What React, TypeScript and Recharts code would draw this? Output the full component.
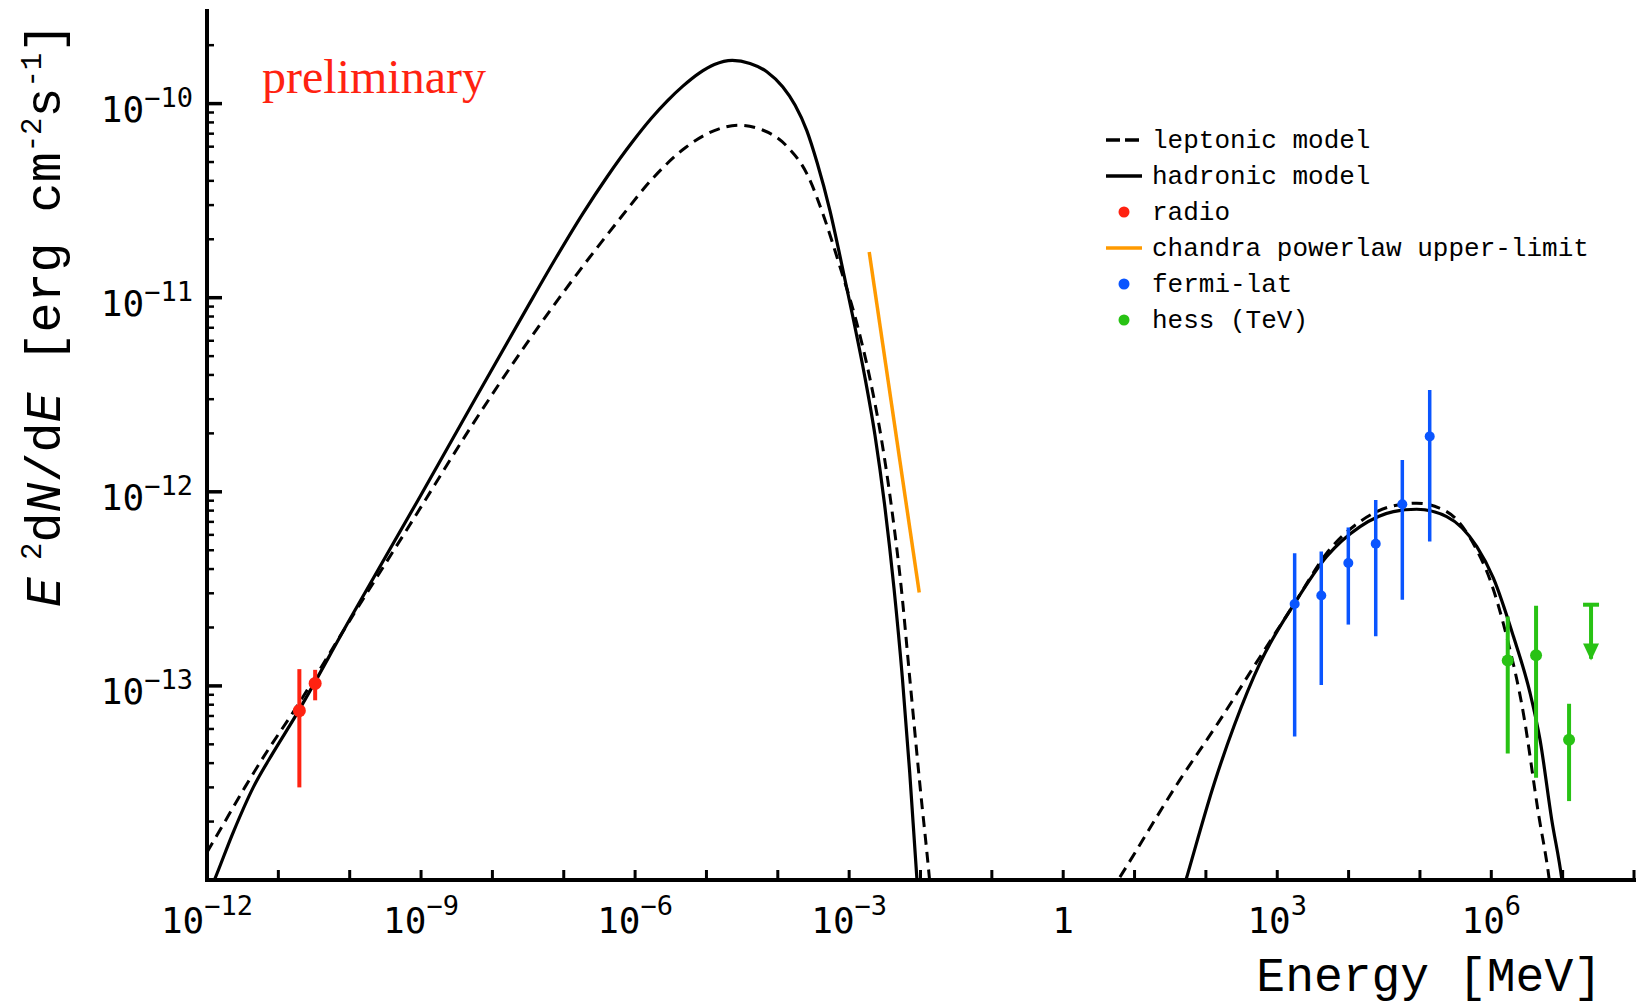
import React from 'react'
import { ComposedChart, Line, Scatter, XAxis, YAxis, ErrorBar } from 'recharts'

const W = 1631
const H = 996

const RED = '#ff2211'
const BLUE = '#0a55ff'
const GREEN = '#28c214'
const ORANGE = '#ff9a00'

// axes (Energy in MeV, E^2 dN/dE in erg cm^-2 s^-1)
const X_DOMAIN = [1e-12, 1e8]
const Y_DOMAIN = [1e-14, 3e-10]
const X_TICKS = [1e-12, 1e-11, 1e-10, 1e-9, 1e-8, 1e-7, 1e-6, 1e-5, 1e-4, 1e-3, 1e-2, 1e-1, 1, 10, 100, 1e3, 1e4, 1e5, 1e6, 1e7, 1e8]
const X_LABELED = [-12, -9, -6, -3, 0, 3, 6]
const Y_MAJOR = [1e-13, 1e-12, 1e-11, 1e-10]
const Y_MINOR = [
  2e-14, 3e-14, 4e-14, 5e-14, 6e-14, 7e-14, 8e-14, 9e-14,
  2e-13, 3e-13, 4e-13, 5e-13, 6e-13, 7e-13, 8e-13, 9e-13,
  2e-12, 3e-12, 4e-12, 5e-12, 6e-12, 7e-12, 8e-12, 9e-12,
  2e-11, 3e-11, 4e-11, 5e-11, 6e-11, 7e-11, 8e-11, 9e-11,
  2e-10,
]

// leptonic model, synchrotron bump
const lepLowE = [1e-12, 1.84e-12, 3.39e-12, 6.9e-12, 1.56e-11, 1.0e-10, 8.22e-10, 5.3e-9, 2.88e-8, 1.57e-7, 6.1e-7, 1.8e-6, 5.16e-6, 1.29e-5, 2.81e-5, 6.12e-5, 1.34e-4, 2.55e-4, 4.53e-4, 7.54e-4, 1.25e-3, 1.95e-3, 2.82e-3, 3.96e-3, 5.38e-3, 7.05e-3, 9.73e-3, 1.34e-2, 1.44e-2]
const lepLowF = [1.39e-14, 2.04e-14, 3.0e-14, 4.58e-14, 7.18e-14, 2.17e-13, 7.45e-13, 2.23e-12, 5.66e-12, 1.34e-11, 2.55e-11, 4.15e-11, 5.96e-11, 7.26e-11, 7.73e-11, 7.31e-11, 6.03e-11, 4.36e-11, 2.55e-11, 1.42e-11, 7.64e-12, 3.85e-12, 1.89e-12, 8.13e-13, 3.19e-13, 1.11e-13, 3.19e-14, 1.0e-14, 7.45e-15]
// leptonic model, inverse compton bump
const lepHighE = [4.56, 5.87, 43.4, 150, 572.8, 1758, 4930, 1.45e4, 4.25e4, 9.0e4, 2.37e5, 6.24e5, 9.6e5, 1.64e6, 2.81e6, 4.56e6, 6.5e6, 6.97e6]
const lepHighF = [8.65e-15, 1.0e-14, 3.29e-14, 6.49e-14, 1.41e-13, 2.67e-13, 4.83e-13, 7.03e-13, 8.47e-13, 8.73e-13, 7.91e-13, 5.02e-13, 3.52e-13, 1.8e-13, 7.26e-14, 2.22e-14, 1.0e-14, 8.1e-15]

// hadronic model
const hadLowE = [1.03e-12, 1.27e-12, 2.33e-12, 4.45e-12, 8.45e-12, 1.67e-11, 1.0e-10, 9.1e-10, 5.3e-9, 2.88e-8, 7.98e-8, 1.86e-7, 4.06e-7, 9.48e-7, 1.69e-6, 2.81e-6, 4.67e-6, 8.02e-6, 1.29e-5, 2.3e-5, 4.08e-5, 7.02e-5, 1.17e-4, 1.75e-4, 2.55e-4, 3.57e-4, 5.37e-4, 7.8e-4, 1.13e-3, 1.64e-3, 2.31e-3, 3.13e-3, 4.25e-3, 5.56e-3, 7.05e-3, 8.93e-3, 9.57e-3]
const hadLowF = [8.33e-15, 1.0e-14, 1.76e-14, 3.0e-14, 4.53e-14, 6.82e-14, 2.2e-13, 9.08e-13, 2.86e-12, 8.53e-12, 1.63e-11, 2.72e-11, 4.2e-11, 6.45e-11, 8.4e-11, 1.03e-10, 1.23e-10, 1.44e-10, 1.59e-10, 1.67e-10, 1.61e-10, 1.46e-10, 1.22e-10, 9.8e-11, 7.26e-11, 4.94e-11, 2.82e-11, 1.51e-11, 7.93e-12, 4.0e-12, 1.94e-12, 8.65e-13, 3.19e-13, 1.11e-13, 3.61e-14, 1.0e-14, 7.18e-15]
const hadHighE = [46.8, 52.5, 132.4, 249.5, 572.8, 1758, 4930, 1.45e4, 4.25e4, 9.0e4, 2.37e5, 6.24e5, 1.07e6, 2.04e6, 3.49e6, 4.82e6, 7.02e6, 9.77e6, 1.05e7]
const hadHighF = [8.65e-15, 1.0e-14, 3.19e-14, 6.25e-14, 1.31e-13, 2.67e-13, 4.64e-13, 6.62e-13, 7.91e-13, 8.13e-13, 7.45e-13, 5.23e-13, 3.59e-13, 1.8e-13, 9.2e-14, 5.28e-14, 2.05e-14, 1.0e-14, 8.1e-15]

// chandra powerlaw upper limit
const chandraE = [1.91e-3, 9.6e-3]
const chandraF = [1.72e-11, 3.03e-13]

// radio
const radioE = [1.97e-11, 3.28e-11]
const radioF = [7.45e-14, 1.03e-13]
const radioLo = [3.0e-14, 8.43e-14]
const radioHi = [1.22e-13, 1.21e-13]

// fermi-lat
const fermiE = [1754, 4140, 9910, 2.4e4, 5.66e4, 1.37e5]
const fermiF = [2.64e-13, 2.92e-13, 4.3e-13, 5.4e-13, 8.63e-13, 1.93e-12]
const fermiLo = [5.48e-14, 1.01e-13, 2.07e-13, 1.8e-13, 2.78e-13, 5.55e-13]
const fermiHi = [4.83e-13, 4.92e-13, 6.55e-13, 9.08e-13, 1.46e-12, 3.35e-12]

// hess
const hessE = [1.7e6, 4.24e6, 1.23e7]
const hessF = [1.35e-13, 1.44e-13, 5.28e-14]
const hessLo = [4.48e-14, 3.36e-14, 2.55e-14]
const hessHi = [2.28e-13, 2.59e-13, 8.09e-14]
// hess upper limit (bar top, arrow tip)
const hessUlE = [2.5e7]
const hessUlF = [2.62e-13]
const hessUlTip = [1.35e-13]

const rows = (E: number[], F: number[]) => E.map((x, i) => ({ x, y: F[i] }))
const rowsErr = (E: number[], F: number[], lo: number[], hi: number[]) =>
  E.map((x, i) => ({ x, y: F[i], err: [F[i] - lo[i], hi[i] - F[i]] }))

const TICK_FONT = 'DejaVu Sans Mono'
const MONO = 'Liberation Mono, Courier New, monospace'

const expOf = (v: number) => Math.round(Math.log10(v))
const isDecade = (v: number) => Math.abs(Math.log10(v) - expOf(v)) < 1e-6
const supText = (e: number) => (e < 0 ? '\u2212' + -e : String(e))

function BottomTick(props: any) {
  const { x, y, payload } = props
  const e = expOf(payload.value)
  return (
    <g>
      <line x1={x} y1={y} x2={x} y2={y - 10} stroke="#000" strokeWidth={3} />
      {X_LABELED.includes(e) && (
        <text x={x} y={y + 53} textAnchor="middle" fontFamily={TICK_FONT} fontSize={36} fill="#000">
          {e === 0 ? '1' : (
            <>
              10<tspan dy={-18} fontSize={27}>{supText(e)}</tspan>
            </>
          )}
        </text>
      )}
    </g>
  )
}

function TopTick(props: any) {
  const { x, y } = props
  return <line x1={x} y1={y} x2={x} y2={y + 10} stroke="#000" strokeWidth={3} />
}

function LeftTick(props: any) {
  const { x, y, payload } = props
  const major = isDecade(payload.value)
  return (
    <g>
      <line x1={x} y1={y} x2={x + (major ? 15 : 7)} y2={y} stroke="#000" strokeWidth={major ? 3.5 : 2.5} />
      {major && (
        <text x={x - 14} y={y + 18} textAnchor="end" fontFamily={TICK_FONT} fontSize={36} fill="#000">
          10<tspan dy={-15} fontSize={27}>{supText(expOf(payload.value))}</tspan>
        </text>
      )}
    </g>
  )
}

function RightTick(props: any) {
  const { x, y, payload } = props
  const major = isDecade(payload.value)
  return <line x1={x} y1={y} x2={x - (major ? 15 : 7)} y2={y} stroke="#000" strokeWidth={major ? 3.5 : 2.5} />
}

const dot = (color: string, r: number) => (p: any) => <circle cx={p.cx} cy={p.cy} r={r} fill={color} />

const ulCap = (p: any) => (
  <line x1={p.cx - 8} y1={p.cy} x2={p.cx + 8} y2={p.cy} stroke={GREEN} strokeWidth={4} />
)
const ulArrow = (p: any) => (
  <polygon points={`${p.cx - 8},${p.cy - 17} ${p.cx + 8},${p.cy - 17} ${p.cx},${p.cy}`} fill={GREEN} />
)

const frame = { stroke: '#000', strokeWidth: 4, strokeLinecap: 'square' as const }

const LEGEND = [
  { label: 'leptonic model', kind: 'dash', color: '#000' },
  { label: 'hadronic model', kind: 'line', color: '#000' },
  { label: 'radio', kind: 'dot', color: RED },
  { label: 'chandra powerlaw upper-limit', kind: 'line', color: ORANGE },
  { label: 'fermi-lat', kind: 'dot', color: BLUE },
  { label: 'hess (TeV)', kind: 'dot', color: GREEN },
]

export default function App() {
  const ulRows = hessUlE.map((x, i) => ({ x, y: hessUlF[i], err: [hessUlF[i] - hessUlTip[i] - 3e-15, 0] }))
  const tipRows = rows(hessUlE, hessUlTip)

  return (
    <div style={{ position: 'relative', width: W, height: H, background: '#fff' }}>
      <ComposedChart width={W} height={H} margin={{ top: 3, right: 5, bottom: 14, left: 9 }}>
        <XAxis
          xAxisId={0}
          dataKey="x"
          type="number"
          scale="log"
          domain={X_DOMAIN}
          allowDataOverflow
          ticks={X_TICKS}
          interval={0}
          height={110}
          tickSize={0}
          tickMargin={0}
          tickLine={false}
          axisLine={frame}
          tick={BottomTick}
        />
        <XAxis
          xAxisId="top"
          orientation="top"
          dataKey="x"
          type="number"
          scale="log"
          domain={X_DOMAIN}
          allowDataOverflow
          ticks={X_TICKS}
          interval={0}
          height={0}
          tickSize={0}
          tickMargin={0}
          tickLine={false}
          axisLine={frame}
          tick={TopTick}
        />
        <YAxis
          yAxisId={0}
          dataKey="y"
          type="number"
          scale="log"
          domain={Y_DOMAIN}
          allowDataOverflow
          ticks={[...Y_MAJOR, ...Y_MINOR]}
          interval={0}
          width={190}
          tickSize={0}
          tickMargin={0}
          tickLine={false}
          axisLine={frame}
          tick={LeftTick}
        />
        <YAxis
          yAxisId="right"
          orientation="right"
          dataKey="y"
          type="number"
          scale="log"
          domain={Y_DOMAIN}
          allowDataOverflow
          ticks={[...Y_MAJOR, ...Y_MINOR]}
          interval={0}
          width={0}
          tickSize={0}
          tickMargin={0}
          tickLine={false}
          axisLine={frame}
          tick={RightTick}
        />

        <Line data={rows(lepLowE, lepLowF)} dataKey="y" type="monotone" stroke="#000" strokeWidth={3} strokeDasharray="11 7" dot={false} activeDot={false} isAnimationActive={false} />
        <Line data={rows(lepHighE, lepHighF)} dataKey="y" type="monotone" stroke="#000" strokeWidth={3} strokeDasharray="11 7" dot={false} activeDot={false} isAnimationActive={false} />
        <Line data={rows(hadLowE, hadLowF)} dataKey="y" type="monotone" stroke="#000" strokeWidth={3.2} dot={false} activeDot={false} isAnimationActive={false} />
        <Line data={rows(hadHighE, hadHighF)} dataKey="y" type="monotone" stroke="#000" strokeWidth={3.2} dot={false} activeDot={false} isAnimationActive={false} />
        <Line data={rows(chandraE, chandraF)} dataKey="y" type="linear" stroke={ORANGE} strokeWidth={3.5} dot={false} activeDot={false} isAnimationActive={false} />

        <Scatter data={rowsErr(radioE, radioF, radioLo, radioHi)} dataKey="y" shape={dot(RED, 6.5)} isAnimationActive={false}>
          <ErrorBar dataKey="err" direction="y" width={0} stroke={RED} strokeWidth={4} />
        </Scatter>
        <Scatter data={rowsErr(fermiE, fermiF, fermiLo, fermiHi)} dataKey="y" shape={dot(BLUE, 5)} isAnimationActive={false}>
          <ErrorBar dataKey="err" direction="y" width={0} stroke={BLUE} strokeWidth={3.5} />
        </Scatter>
        <Scatter data={rowsErr(hessE, hessF, hessLo, hessHi)} dataKey="y" shape={dot(GREEN, 6)} isAnimationActive={false}>
          <ErrorBar dataKey="err" direction="y" width={0} stroke={GREEN} strokeWidth={4} />
        </Scatter>
        <Scatter data={ulRows} dataKey="y" shape={ulCap} isAnimationActive={false}>
          <ErrorBar dataKey="err" direction="y" width={0} stroke={GREEN} strokeWidth={4} />
        </Scatter>
        <Scatter data={tipRows} dataKey="y" shape={ulArrow} isAnimationActive={false} />
      </ComposedChart>

      <svg width={W} height={H} style={{ position: 'absolute', left: 0, top: 0, pointerEvents: 'none' }}>
        <text x={254} y={85} fontFamily="Liberation Serif, Times New Roman, serif" fontSize={48} fill={RED}>
          preliminary
        </text>

        <text transform="translate(52,307) rotate(-90)" textAnchor="middle" fontFamily={MONO} fontSize={50} fill="#000">
          <tspan fontStyle="italic">E</tspan>
          <tspan dy={-19} fontSize={29}> 2</tspan>
          <tspan dy={19}>d</tspan>
          <tspan fontStyle="italic">N</tspan>
          <tspan>/d</tspan>
          <tspan fontStyle="italic">E</tspan>
          <tspan> [erg cm</tspan>
          <tspan dy={-19} fontSize={29}>-2</tspan>
          <tspan dy={19}>s</tspan>
          <tspan dy={-19} fontSize={29}>-1</tspan>
          <tspan dy={19}>]</tspan>
        </text>

        <text x={1594} y={983} textAnchor="end" fontFamily={MONO} fontSize={48} fill="#000">
          Energy [MeV]
        </text>

        {LEGEND.map((d, i) => {
          const cy = 132 + i * 36
          return (
            <g key={d.label}>
              {d.kind === 'dash' && (
                <line x1={1098} y1={cy} x2={1131} y2={cy} stroke={d.color} strokeWidth={3.5} strokeDasharray="14 5" />
              )}
              {d.kind === 'line' && <line x1={1098} y1={cy} x2={1134} y2={cy} stroke={d.color} strokeWidth={3.5} />}
              {d.kind === 'dot' && <circle cx={1116} cy={cy} r={5.5} fill={d.color} />}
              <text x={1144} y={cy + 8} fontFamily={MONO} fontSize={26} fill="#000">
                {d.label}
              </text>
            </g>
          )
        })}
      </svg>
    </div>
  )
}
